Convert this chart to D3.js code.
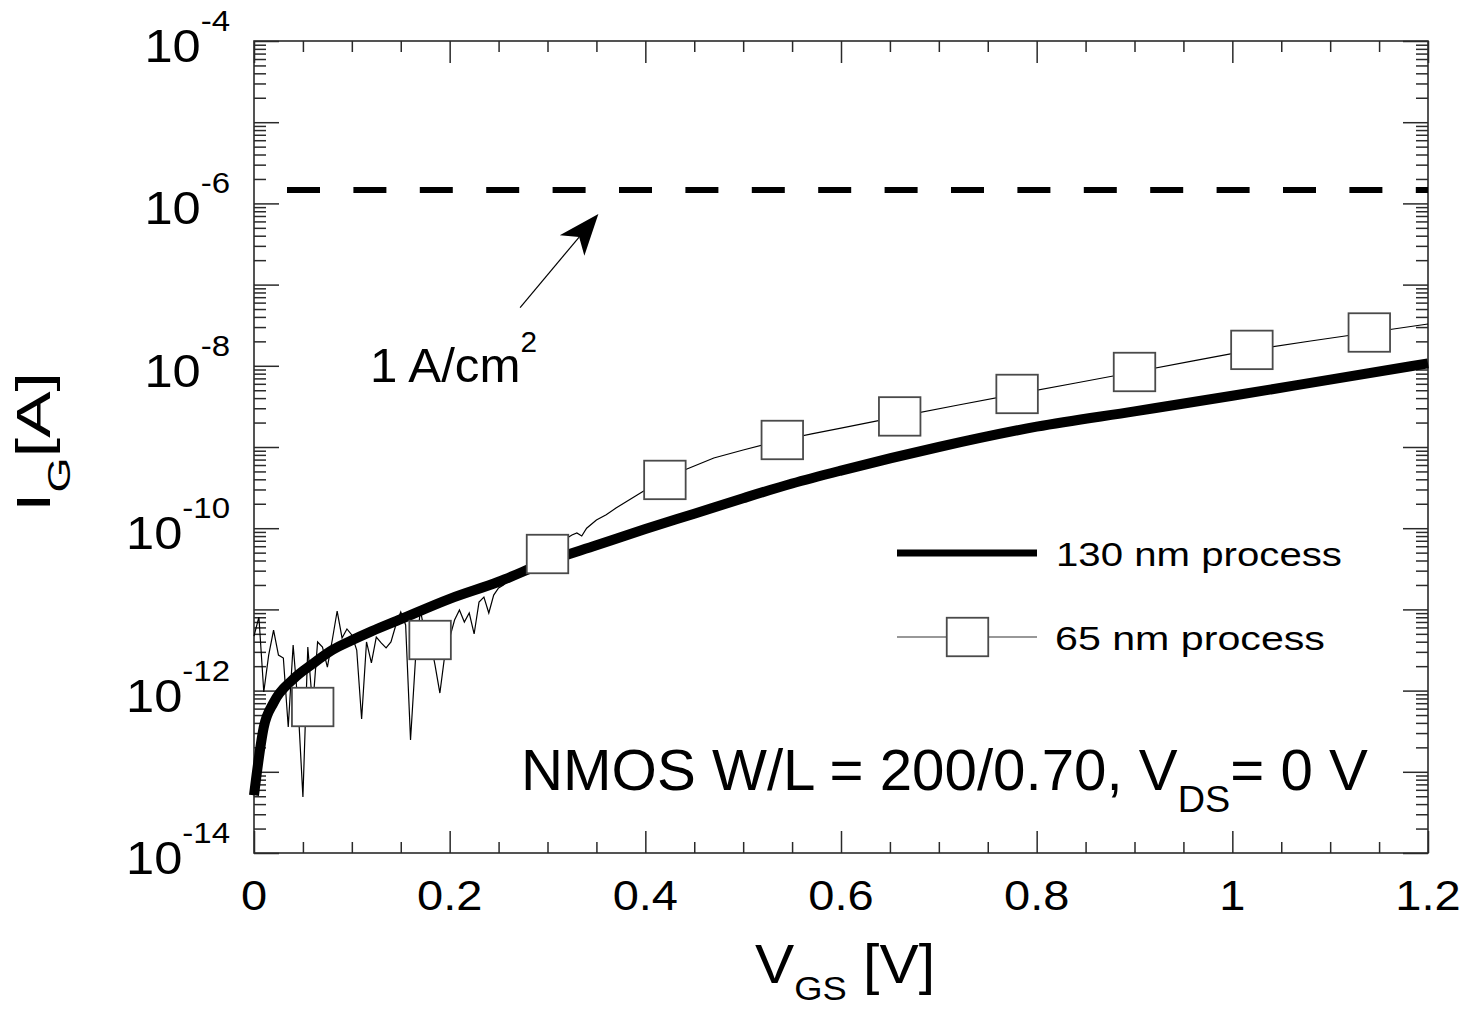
<!DOCTYPE html>
<html>
<head>
<meta charset="utf-8">
<script src="https://cdn.jsdelivr.net/npm/d3@7"></script>
<style>
  html, body { margin: 0; padding: 0; background: #fff; }
  svg { display: block; font-family: "Liberation Sans", Arial, sans-serif; }
</style>
</head>
<body>
<svg id="chart" width="1469" height="1009"></svg>
<script>
// ---------------------
// Data
// ---------------------

// 130 nm process, gate current vs VGS
const vgs130 = [0, 0.01, 0.02, 0.04, 0.06, 0.08, 0.10, 0.12, 0.15, 0.20, 0.25, 0.30,
  0.35, 0.40, 0.45, 0.50, 0.55, 0.60, 0.70, 0.80, 0.90, 1.00, 1.10, 1.20];
const ig130 = [5.13e-14, 3.55e-13, 7.08e-13, 1.38e-12, 2.14e-12, 3.16e-12, 4.17e-12,
  5.37e-12, 7.59e-12, 1.35e-11, 2.19e-11, 3.89e-11, 6.17e-11, 9.77e-11, 1.51e-10,
  2.34e-10, 3.55e-10, 5.13e-10, 1.00e-9, 1.78e-9, 2.75e-9, 4.27e-9, 6.76e-9, 1.07e-8];

// 65 nm process (noisy at low VGS)
const vgs65 = [0, 0.005, 0.01, 0.015, 0.02, 0.025, 0.03, 0.035, 0.04, 0.045,
  0.05, 0.055, 0.06, 0.065, 0.07, 0.075, 0.08, 0.085, 0.09, 0.095,
  0.10, 0.105, 0.11, 0.115, 0.12, 0.125, 0.13, 0.135, 0.14, 0.145,
  0.15, 0.155, 0.16, 0.165, 0.17, 0.175, 0.18, 0.185, 0.19, 0.195,
  0.20, 0.205, 0.21, 0.215, 0.22, 0.225, 0.23, 0.235, 0.24, 0.245,
  0.25, 0.255, 0.26, 0.265, 0.27, 0.275, 0.28, 0.285, 0.29, 0.295,
  0.30, 0.32, 0.325, 0.33, 0.335, 0.34, 0.35, 0.36, 0.37, 0.38, 0.39,
  0.40, 0.42, 0.44, 0.47, 0.50, 0.54, 0.57, 0.60, 0.66, 0.72, 0.78,
  0.84, 0.90, 0.96, 1.02, 1.08, 1.14, 1.20];
const ig65 = [4.70e-12, 8.05e-12, 9.6e-13, 2.74e-12, 5.57e-12, 2.74e-12, 2.52e-12, 3.56e-13, 3.65e-12, 6.65e-13,
  4.90e-14, 3.44e-12, 6.28e-13, 3.97e-12, 3.44e-12, 1.95e-12, 4.20e-12, 9.55e-12, 4.45e-12, 5.74e-12,
  4.84e-12, 3.16e-12, 4.47e-13, 3.97e-12, 2.19e-12, 4.57e-12, 3.86e-12, 3.35e-12, 3.97e-12, 6.43e-12,
  9.29e-12, 6.43e-12, 2.47e-13, 2.38e-12, 9.84e-12, 4.84e-12, 4.20e-12, 2.07e-12, 9.33e-13, 2.74e-12,
  4.45e-12, 7.40e-12, 9.84e-12, 7.00e-12, 9.03e-12, 4.98e-12, 1.23e-11, 1.42e-11, 9.03e-12, 1.50e-11,
  1.84e-11, 2.00e-11, 2.30e-11, 2.51e-11, 2.81e-11, 3.05e-11, 3.33e-11, 3.73e-11, 4.06e-11, 4.42e-11,
  4.81e-11, 7.57e-11, 8.24e-11, 8.73e-11, 8.02e-11, 1.00e-10, 1.26e-10, 1.46e-10, 1.77e-10, 2.10e-10, 2.49e-10,
  2.95e-10, 3.93e-10, 5.21e-10, 7.32e-10, 9.18e-10, 1.22e-9, 1.45e-9, 1.71e-9, 2.38e-9, 3.29e-9, 4.50e-9,
  6.14e-9, 8.39e-9, 1.15e-8, 1.57e-8, 2.02e-8, 2.57e-8, 3.27e-8];

// VGS values where the 65 nm series carries a square marker
const markerVgs = [0.06, 0.18, 0.30, 0.42, 0.54, 0.66, 0.78, 0.90, 1.02, 1.14];

// gate current corresponding to 1 A/cm2
const limitIg = 1.46e-6;

// axis ticks
const xMajor = [0, 0.2, 0.4, 0.6, 0.8, 1.0, 1.2];
const xTickLabels = ['0', '0.2', '0.4', '0.6', '0.8', '1', '1.2'];
const yDecades = [-14, -13, -12, -11, -10, -9, -8, -7, -6, -5, -4];
const yLabelExps = [-14, -12, -10, -8, -6, -4];

// ---------------------
// Setup
// ---------------------
const svg = d3.select('#chart');
const plot = { left: 254, right: 1428, top: 41, bottom: 853 };

const x = d3.scaleLinear().domain([0, 1.2]).range([plot.left, plot.right]);
const y = d3.scaleLog().domain([1e-14, 1e-4]).range([plot.bottom, plot.top]);

const axisColor = '#2a2a2a';

// text helper: build a text, then squeeze/stretch it horizontally to a target width
function placeText(parent, tx, ty, width, anchor, build, rotate) {
  const g = parent.append('g');
  const t = g.append('text').attr('text-anchor', anchor).attr('fill', '#000');
  build(t);
  const w = t.node().getBBox().width;
  const s = width ? width / w : 1;
  g.attr('transform', 'translate(' + tx + ',' + ty + ')' + (rotate ? ' rotate(' + rotate + ')' : '') + ' scale(' + s + ',1)');
  return g;
}

// ---------------------
// Axes (ticks inside, mirrored)
// ---------------------
const xMinor = d3.range(0, 1.2001, 0.05).filter(v => !xMajor.some(m => Math.abs(m - v) < 1e-6));
const yMajor = yDecades.map(d => Math.pow(10, d));
const yMinor = [];
yDecades.slice(0, -1).forEach(d => {
  for (let k = 2; k <= 9; k++) yMinor.push(k * Math.pow(10, d));
});

function styleAxis(g) {
  g.select('.domain').remove();
  g.selectAll('.tick line').attr('stroke', axisColor).attr('stroke-width', 1.5);
  g.selectAll('.tick text').remove();
}

svg.append('g').attr('transform', 'translate(0,' + plot.bottom + ')')
  .call(d3.axisBottom(x).tickValues(xMajor).tickSize(-22)).call(styleAxis);
svg.append('g').attr('transform', 'translate(0,' + plot.bottom + ')')
  .call(d3.axisBottom(x).tickValues(xMinor).tickSize(-11)).call(styleAxis);
svg.append('g').attr('transform', 'translate(0,' + plot.top + ')')
  .call(d3.axisTop(x).tickValues(xMajor).tickSize(-22)).call(styleAxis);
svg.append('g').attr('transform', 'translate(0,' + plot.top + ')')
  .call(d3.axisTop(x).tickValues(xMinor).tickSize(-11)).call(styleAxis);

svg.append('g').attr('transform', 'translate(' + plot.left + ',0)')
  .call(d3.axisLeft(y).tickValues(yMajor).tickSize(-25)).call(styleAxis);
svg.append('g').attr('transform', 'translate(' + plot.left + ',0)')
  .call(d3.axisLeft(y).tickValues(yMinor).tickSize(-12)).call(styleAxis);
svg.append('g').attr('transform', 'translate(' + plot.right + ',0)')
  .call(d3.axisRight(y).tickValues(yMajor).tickSize(-25)).call(styleAxis);
svg.append('g').attr('transform', 'translate(' + plot.right + ',0)')
  .call(d3.axisRight(y).tickValues(yMinor).tickSize(-12)).call(styleAxis);

// frame
svg.append('rect')
  .attr('x', plot.left).attr('y', plot.top)
  .attr('width', plot.right - plot.left).attr('height', plot.bottom - plot.top)
  .attr('fill', 'none').attr('stroke', axisColor).attr('stroke-width', 1.6);

// tick labels
xMajor.forEach((v, i) => {
  placeText(svg, x(v), 910, null, 'middle', t => {
    t.attr('font-size', 42).text(xTickLabels[i]);
  }).attr('transform', 'translate(' + x(v) + ',910) scale(1.12,1)');
});

yLabelExps.forEach(e => {
  const ty = y(Math.pow(10, e));
  placeText(svg, 230, ty, null, 'end', t => {
    t.append('tspan').attr('font-size', 46).attr('dy', 21).text('10');
    t.append('tspan').attr('font-size', 30).attr('dy', -31).text('-' + Math.abs(e));
  }).attr('transform', 'translate(230,' + ty + ') scale(1.1,1)');
});

// axis titles
placeText(svg, 845, 983, 180, 'middle', t => {
  t.append('tspan').attr('font-size', 55).text('V');
  t.append('tspan').attr('font-size', 34).attr('dy', 17).text('GS');
  t.append('tspan').attr('font-size', 55).attr('dy', -17).text(' [V]');
});

placeText(svg, 50, 442, 140, 'middle', t => {
  t.append('tspan').attr('font-size', 48).text('I');
  t.append('tspan').attr('font-size', 31).attr('dy', 20).text('G');
  t.append('tspan').attr('font-size', 48).attr('dy', -20).text('[A]');
}, -90);

// ---------------------
// Data lines
// ---------------------
const line = d3.line().x(d => x(d[0])).y(d => y(d[1]));

const pts65 = vgs65.map((v, i) => [v, ig65[i]]);
const pts130 = vgs130.map((v, i) => [v, ig130[i]]);

// 1 A/cm2 limit
svg.append('line')
  .attr('x1', x(0)).attr('x2', x(1.2))
  .attr('y1', y(limitIg)).attr('y2', y(limitIg))
  .attr('stroke', '#000').attr('stroke-width', 6)
  .attr('stroke-dasharray', '33,33.4').attr('stroke-dashoffset', 33.4);

svg.append('path').datum(pts65)
  .attr('d', line)
  .attr('fill', 'none').attr('stroke', '#000').attr('stroke-width', 1.2)
  .attr('stroke-linejoin', 'miter');

svg.append('path').datum(pts130)
  .attr('d', line.curve(d3.curveMonotoneX))
  .attr('fill', 'none').attr('stroke', '#000').attr('stroke-width', 10)
  .attr('stroke-linejoin', 'round');
line.curve(d3.curveLinear);

// square markers on the 65 nm series
const mw = 41.5, mh = 38.5;
const markers = markerVgs.map(v => pts65.find(p => Math.abs(p[0] - v) < 1e-9));
svg.append('g').selectAll('rect').data(markers).join('rect')
  .attr('x', d => x(d[0]) - mw / 2).attr('y', d => y(d[1]) - mh / 2)
  .attr('width', mw).attr('height', mh)
  .attr('fill', '#fff').attr('stroke', '#4a4a4a').attr('stroke-width', 1.8);

// ---------------------
// Annotations
// ---------------------
const arrowTail = [x(0.272), y(5.2e-8)];
const arrowTip = [x(0.352), y(7.4e-7)];
const dx = arrowTip[0] - arrowTail[0], dy = arrowTip[1] - arrowTail[1];
const len = Math.hypot(dx, dy), ux = dx / len, uy = dy / len;
const headLen = 41, headHalf = 16, notch = 30;
svg.append('line')
  .attr('x1', arrowTail[0]).attr('y1', arrowTail[1])
  .attr('x2', arrowTip[0] - ux * notch).attr('y2', arrowTip[1] - uy * notch)
  .attr('stroke', '#000').attr('stroke-width', 1.2);
const head = [
  [arrowTip[0], arrowTip[1]],
  [arrowTip[0] - ux * headLen - uy * headHalf, arrowTip[1] - uy * headLen + ux * headHalf],
  [arrowTip[0] - ux * notch, arrowTip[1] - uy * notch],
  [arrowTip[0] - ux * headLen + uy * headHalf, arrowTip[1] - uy * headLen - ux * headHalf]
];
svg.append('path').attr('d', 'M' + head.join('L') + 'Z').attr('fill', '#000');

placeText(svg, 370, 382, 167, 'start', t => {
  t.append('tspan').attr('font-size', 48).text('1 A/cm');
  t.append('tspan').attr('font-size', 29).attr('dy', -30).text('2');
});

placeText(svg, 521, 790, 847, 'start', t => {
  t.append('tspan').attr('font-size', 57).text('NMOS W/L = 200/0.70, V');
  t.append('tspan').attr('font-size', 37).attr('dy', 22).text('DS');
  t.append('tspan').attr('font-size', 57).attr('dy', -22).text('= 0 V');
});

// ---------------------
// Legend
// ---------------------
const legend = svg.append('g');
legend.append('line').attr('x1', 897).attr('x2', 1037).attr('y1', 553).attr('y2', 553)
  .attr('stroke', '#000').attr('stroke-width', 7);
placeText(legend, 1056, 566, 286, 'start', t => {
  t.attr('font-size', 33).text('130 nm process');
});
legend.append('line').attr('x1', 897).attr('x2', 1037).attr('y1', 637).attr('y2', 637)
  .attr('stroke', '#333').attr('stroke-width', 1.2);
legend.append('rect').attr('x', 967.5 - mw / 2).attr('y', 637 - mh / 2)
  .attr('width', mw).attr('height', mh)
  .attr('fill', '#fff').attr('stroke', '#4a4a4a').attr('stroke-width', 1.8);
placeText(legend, 1055, 650, 270, 'start', t => {
  t.attr('font-size', 33).text('65 nm process');
});
</script>
</body>
</html>
